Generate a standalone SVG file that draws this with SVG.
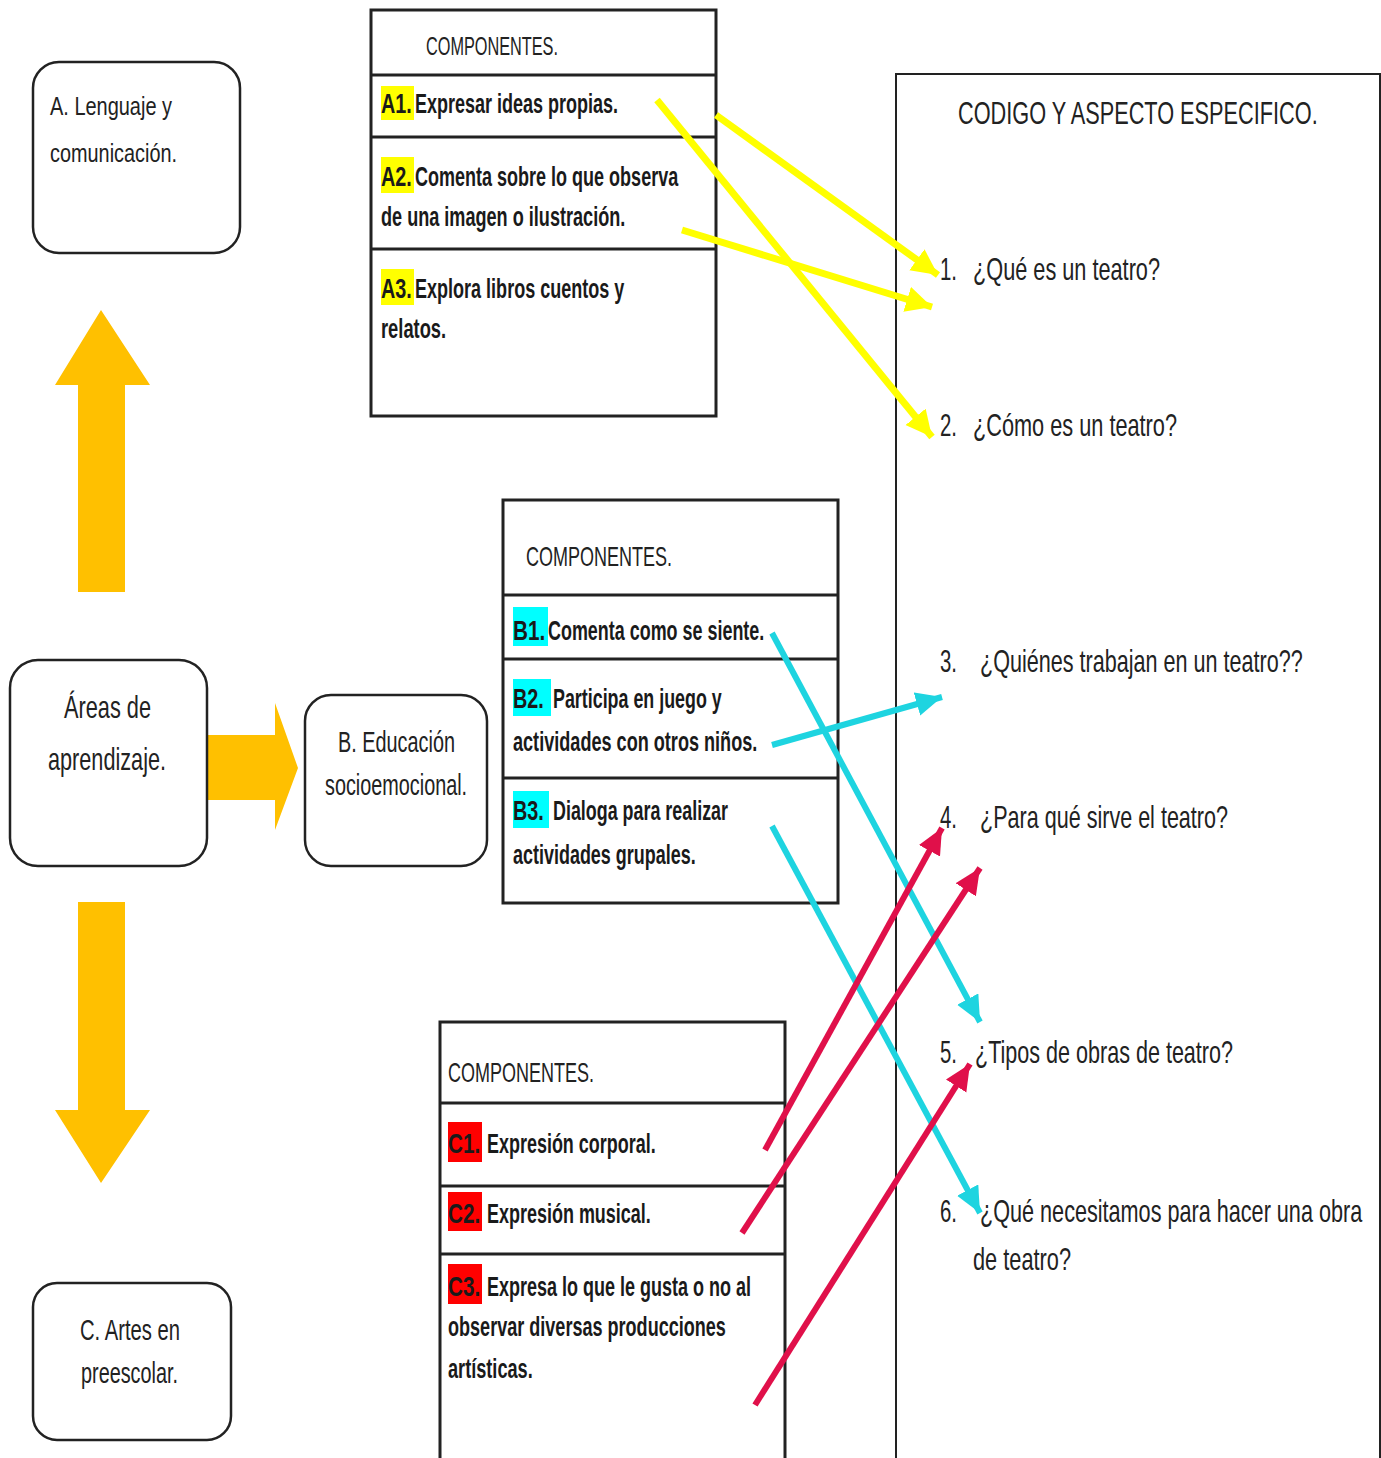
<svg xmlns="http://www.w3.org/2000/svg" width="1381" height="1458" viewBox="0 0 1381 1458">
<style>
.rbox{fill:#fff;stroke:#222;stroke-width:2.5}
.tbl{fill:#fff;stroke:#222;stroke-width:3}
.sep{stroke:#222;stroke-width:3}
.t{font-family:"Liberation Sans",Arial,sans-serif;fill:#222}
.tc{font-family:"Liberation Sans",Arial,sans-serif;fill:#1a1a1a;font-weight:bold;font-size:28px}
.q{font-family:"Liberation Sans",Arial,sans-serif;fill:#222;font-size:32px}
.big{fill:#FFC000}
.y{stroke:#FFFF00;stroke-width:7;fill:none}
.c{stroke:#1ED4E0;stroke-width:6;fill:none}
.r{stroke:#E0104A;stroke-width:6;fill:none}
</style>
<defs>
<marker id="my" markerUnits="userSpaceOnUse" markerWidth="30" markerHeight="30" refX="26" refY="13" orient="auto"><path d="M0,0 L26,13 L0,26 Z" fill="#FFFF00"/></marker>
<marker id="mc" markerUnits="userSpaceOnUse" markerWidth="30" markerHeight="30" refX="26" refY="12" orient="auto"><path d="M0,0 L26,12 L0,24 Z" fill="#1ED4E0"/></marker>
<marker id="mr" markerUnits="userSpaceOnUse" markerWidth="30" markerHeight="30" refX="26" refY="12" orient="auto"><path d="M0,0 L26,12 L0,24 Z" fill="#E0104A"/></marker>
</defs>
<rect width="1381" height="1458" fill="#fff"/>

<g id="big-arrows">
<path class="big" d="M78,592 L78,385 L55,385 L101,310 L150,385 L125,385 L125,592 Z"/>
<path class="big" d="M207,735 L275,735 L275,703 L298,768 L275,830 L275,800 L207,800 Z"/>
<path class="big" d="M78,902 L125,902 L125,1110 L150,1110 L101,1183 L55,1110 L78,1110 Z"/>
</g>

<g id="node-A">
<rect class="rbox" x="33" y="62" width="207" height="191" rx="26"/>
<text class="t" font-size="26" x="50" y="115" textLength="122" lengthAdjust="spacingAndGlyphs">A. Lenguaje y</text>
<text class="t" font-size="26" x="50" y="162" textLength="127" lengthAdjust="spacingAndGlyphs">comunicación.</text>
</g>

<g id="node-areas">
<rect class="rbox" x="10" y="660" width="197" height="206" rx="28"/>
<text class="t" font-size="32" x="64" y="718" textLength="87" lengthAdjust="spacingAndGlyphs">Áreas de</text>
<text class="t" font-size="32" x="48" y="770" textLength="118" lengthAdjust="spacingAndGlyphs">aprendizaje.</text>
</g>

<g id="node-B">
<rect class="rbox" x="305" y="695" width="182" height="171" rx="26"/>
<text class="t" font-size="29" transform="translate(338 752) scale(0.75 1)" textLength="156" lengthAdjust="spacingAndGlyphs">B. Educación</text>
<text class="t" font-size="29" transform="translate(325 795) scale(0.7 1)" textLength="203" lengthAdjust="spacingAndGlyphs">socioemocional.</text>
</g>

<g id="node-C">
<rect class="rbox" x="33" y="1283" width="198" height="157" rx="24"/>
<text class="t" font-size="29" x="80" y="1340" textLength="100" lengthAdjust="spacingAndGlyphs">C. Artes en</text>
<text class="t" font-size="29" x="81" y="1383" textLength="97" lengthAdjust="spacingAndGlyphs">preescolar.</text>
</g>

<g id="table-A">
<rect class="tbl" x="371" y="10" width="345" height="406"/>
<line class="sep" x1="371" y1="75" x2="716" y2="75"/>
<line class="sep" x1="371" y1="137" x2="716" y2="137"/>
<line class="sep" x1="371" y1="249" x2="716" y2="249"/>
<text class="t" font-size="26" x="426" y="55" textLength="132" lengthAdjust="spacingAndGlyphs">COMPONENTES.</text>
<rect x="381" y="86" width="33" height="34" fill="#FFFF00"/>
<text class="tc" transform="translate(381 113) scale(0.7 1)" textLength="44" lengthAdjust="spacingAndGlyphs">A1.</text>
<text class="tc" transform="translate(415 113) scale(0.7 1)" textLength="290" lengthAdjust="spacingAndGlyphs">Expresar ideas propias.</text>
<rect x="381" y="157" width="33" height="36" fill="#FFFF00"/>
<text class="tc" transform="translate(381 186) scale(0.7 1)" textLength="44" lengthAdjust="spacingAndGlyphs">A2.</text>
<text class="tc" transform="translate(415 186) scale(0.7 1)" textLength="376" lengthAdjust="spacingAndGlyphs">Comenta sobre lo que observa</text>
<text class="tc" transform="translate(381 226) scale(0.7 1)" textLength="349" lengthAdjust="spacingAndGlyphs">de una imagen o ilustración.</text>
<rect x="381" y="269" width="33" height="36" fill="#FFFF00"/>
<text class="tc" transform="translate(381 298) scale(0.7 1)" textLength="44" lengthAdjust="spacingAndGlyphs">A3.</text>
<text class="tc" transform="translate(415 298) scale(0.7 1)" textLength="299" lengthAdjust="spacingAndGlyphs">Explora libros cuentos y</text>
<text class="tc" transform="translate(381 338) scale(0.7 1)" textLength="93" lengthAdjust="spacingAndGlyphs">relatos.</text>
</g>

<g id="table-B">
<rect class="tbl" x="503" y="500" width="335" height="403"/>
<line class="sep" x1="503" y1="595" x2="838" y2="595"/>
<line class="sep" x1="503" y1="659" x2="838" y2="659"/>
<line class="sep" x1="503" y1="778" x2="838" y2="778"/>
<text class="t" font-size="28" x="526" y="566" textLength="146" lengthAdjust="spacingAndGlyphs">COMPONENTES.</text>
<rect x="513" y="607" width="35" height="39" fill="#00FFFF"/>
<text class="tc" transform="translate(513 640) scale(0.7 1)" textLength="46" lengthAdjust="spacingAndGlyphs">B1.</text>
<text class="tc" transform="translate(548 640) scale(0.7 1)" textLength="309" lengthAdjust="spacingAndGlyphs">Comenta como se siente.</text>
<rect x="513" y="679" width="38" height="37" fill="#00FFFF"/>
<text class="tc" transform="translate(513 708) scale(0.7 1)" textLength="44" lengthAdjust="spacingAndGlyphs">B2.</text>
<text class="tc" transform="translate(553 708) scale(0.7 1)" textLength="241" lengthAdjust="spacingAndGlyphs">Participa en juego y</text>
<text class="tc" transform="translate(513 751) scale(0.7 1)" textLength="349" lengthAdjust="spacingAndGlyphs">actividades con otros niños.</text>
<rect x="513" y="791" width="36" height="37" fill="#00FFFF"/>
<text class="tc" transform="translate(513 820) scale(0.7 1)" textLength="44" lengthAdjust="spacingAndGlyphs">B3.</text>
<text class="tc" transform="translate(553 820) scale(0.7 1)" textLength="250" lengthAdjust="spacingAndGlyphs">Dialoga para realizar</text>
<text class="tc" transform="translate(513 864) scale(0.7 1)" textLength="261" lengthAdjust="spacingAndGlyphs">actividades grupales.</text>
</g>

<g id="table-C">
<rect class="tbl" x="440" y="1022" width="345" height="460"/>
<line class="sep" x1="440" y1="1103" x2="785" y2="1103"/>
<line class="sep" x1="440" y1="1186" x2="785" y2="1186"/>
<line class="sep" x1="440" y1="1254" x2="785" y2="1254"/>
<text class="t" font-size="28" x="448" y="1082" textLength="146" lengthAdjust="spacingAndGlyphs">COMPONENTES.</text>
<rect x="448" y="1122" width="34" height="40" fill="#FF0000"/>
<text class="tc" transform="translate(448 1153) scale(0.7 1)" textLength="46" lengthAdjust="spacingAndGlyphs">C1.</text>
<text class="tc" transform="translate(487 1153) scale(0.7 1)" textLength="241" lengthAdjust="spacingAndGlyphs">Expresión corporal.</text>
<rect x="448" y="1192" width="34" height="39" fill="#FF0000"/>
<text class="tc" transform="translate(448 1223) scale(0.7 1)" textLength="46" lengthAdjust="spacingAndGlyphs">C2.</text>
<text class="tc" transform="translate(487 1223) scale(0.7 1)" textLength="234" lengthAdjust="spacingAndGlyphs">Expresión musical.</text>
<rect x="448" y="1264" width="34" height="40" fill="#FF0000"/>
<text class="tc" transform="translate(448 1296) scale(0.7 1)" textLength="46" lengthAdjust="spacingAndGlyphs">C3.</text>
<text class="tc" transform="translate(487 1296) scale(0.7 1)" textLength="377" lengthAdjust="spacingAndGlyphs">Expresa lo que le gusta o no al</text>
<text class="tc" transform="translate(448 1336) scale(0.7 1)" textLength="397" lengthAdjust="spacingAndGlyphs">observar diversas producciones</text>
<text class="tc" transform="translate(448 1378) scale(0.7 1)" textLength="121" lengthAdjust="spacingAndGlyphs">artísticas.</text>
</g>

<g id="aspectos">
<rect x="896" y="74" width="484" height="1400" fill="none" stroke="#222" stroke-width="2"/>
<text class="q" font-size="36" transform="translate(958 124) scale(0.68 1)" textLength="529" lengthAdjust="spacingAndGlyphs">CODIGO Y ASPECTO ESPECIFICO.</text>
<text class="q" x="940" y="280" textLength="17" lengthAdjust="spacingAndGlyphs">1.</text>
<text class="q" x="973" y="280" textLength="187" lengthAdjust="spacingAndGlyphs">¿Qué es un teatro?</text>
<text class="q" x="940" y="436" textLength="17" lengthAdjust="spacingAndGlyphs">2.</text>
<text class="q" x="973" y="436" textLength="204" lengthAdjust="spacingAndGlyphs">¿Cómo es un teatro?</text>
<text class="q" x="940" y="672" textLength="17" lengthAdjust="spacingAndGlyphs">3.</text>
<text class="q" transform="translate(980 672) scale(0.7 1)" textLength="461" lengthAdjust="spacingAndGlyphs">¿Quiénes trabajan en un teatro??</text>
<text class="q" x="940" y="828" textLength="17" lengthAdjust="spacingAndGlyphs">4.</text>
<text class="q" x="980" y="828" textLength="248" lengthAdjust="spacingAndGlyphs">¿Para qué sirve el teatro?</text>
<text class="q" x="940" y="1063" textLength="17" lengthAdjust="spacingAndGlyphs">5.</text>
<text class="q" x="975" y="1063" textLength="258" lengthAdjust="spacingAndGlyphs">¿Tipos de obras de teatro?</text>
<text class="q" x="940" y="1222" textLength="17" lengthAdjust="spacingAndGlyphs">6.</text>
<text class="q" transform="translate(980 1222) scale(0.7 1)" textLength="546" lengthAdjust="spacingAndGlyphs">¿Qué necesitamos para hacer una obra</text>
<text class="q" x="973" y="1270" textLength="98" lengthAdjust="spacingAndGlyphs">de teatro?</text>
</g>

<g id="connectors">
<line class="y" x1="716" y1="115" x2="938" y2="275" marker-end="url(#my)"/>
<line class="y" x1="682" y1="230" x2="932" y2="307" marker-end="url(#my)"/>
<line class="y" x1="657" y1="100" x2="932" y2="437" marker-end="url(#my)"/>
<line class="c" x1="772" y1="633" x2="980" y2="1022" marker-end="url(#mc)"/>
<line class="c" x1="772" y1="745" x2="942" y2="697" marker-end="url(#mc)"/>
<line class="c" x1="772" y1="826" x2="980" y2="1213" marker-end="url(#mc)"/>
<line class="r" x1="765" y1="1150" x2="942" y2="828" marker-end="url(#mr)"/>
<line class="r" x1="742" y1="1233" x2="980" y2="868" marker-end="url(#mr)"/>
<line class="r" x1="755" y1="1405" x2="970" y2="1064" marker-end="url(#mr)"/>
</g>
</svg>
